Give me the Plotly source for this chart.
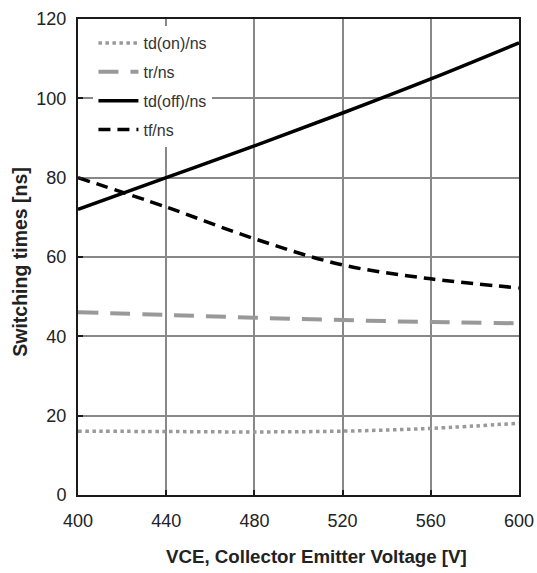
import plotly.graph_objects as go

vce = [400, 440, 480, 520, 560, 600]
td_on = [16.1, 16.0, 15.9, 16.1, 16.8, 18.1]
tr = [46.1, 45.4, 44.7, 44.1, 43.6, 43.3]
td_off = [72.0, 80.0, 88.0, 96.3, 104.9, 114.0]
tf = [80.0, 72.6, 64.6, 58.0, 54.5, 52.2]

x_ticks = [400, 440, 480, 520, 560, 600]
y_ticks = [0, 20, 40, 60, 80, 100, 120]

x_title = "VCE, Collector Emitter Voltage [V]"
y_title = "Switching times [ns]"

fig = go.Figure()
series = [
    ("td(on)/ns", td_on, dict(color="#999999", width=3.5, dash="dot")),
    ("tr/ns", tr, dict(color="#999999", width=4, dash="20px,12px")),
    ("td(off)/ns", td_off, dict(color="#000000", width=3.5, dash="solid")),
    ("tf/ns", tf, dict(color="#000000", width=3.5, dash="12px,7px")),
]
for i, (name, ys, line) in enumerate(series):
    fig.add_trace(go.Scatter(x=vce, y=ys, mode="lines", name=name, line=line,
                             line_shape="spline", legendgroup=f"g{i}"))

axis_common = dict(showgrid=True, gridcolor="#888888", gridwidth=1.5, showline=True,
                   linecolor="#1a1a1a", linewidth=2, mirror=True, ticks="inside",
                   ticklen=5, tickcolor="#1a1a1a", tickwidth=2, zeroline=False,
                   automargin=False, tickfont=dict(size=18, color="#222222"))

fig.update_layout(
    width=537, height=573,
    margin=dict(l=78, r=18, t=19, b=78),
    paper_bgcolor="white", plot_bgcolor="white",
    font=dict(family="Liberation Sans, Arial, sans-serif", color="#222222", size=16),
    showlegend=True,
    legend=dict(x=0.035, y=0.985, xanchor="left", yanchor="top",
                bgcolor="white", font=dict(size=16, color="#333333"),
                traceorder="grouped", tracegroupgap=5, itemwidth=40),
    xaxis=dict(range=[400, 600], tickvals=x_ticks, ticklabelstandoff=8, **axis_common),
    yaxis=dict(range=[0, 120], tickvals=y_ticks, ticklabelstandoff=6, **axis_common),
    annotations=[
        dict(text=f"<b>{x_title}</b>", xref="paper", yref="paper", x=0.54, y=0,
             xanchor="center", yanchor="middle", yshift=-61, showarrow=False,
             font=dict(size=18.7, color="#222222")),
        dict(text=f"<b>{y_title}</b>", xref="paper", yref="paper", x=0, y=0.49,
             xanchor="center", yanchor="middle", xshift=-58, textangle=-90,
             showarrow=False, font=dict(size=19.5, color="#222222")),
    ],
)

fig.write_html(
    "out.html",
    config={"displayModeBar": False},
    post_script="document.body.style.margin='0';document.body.style.overflow='hidden';",
)
